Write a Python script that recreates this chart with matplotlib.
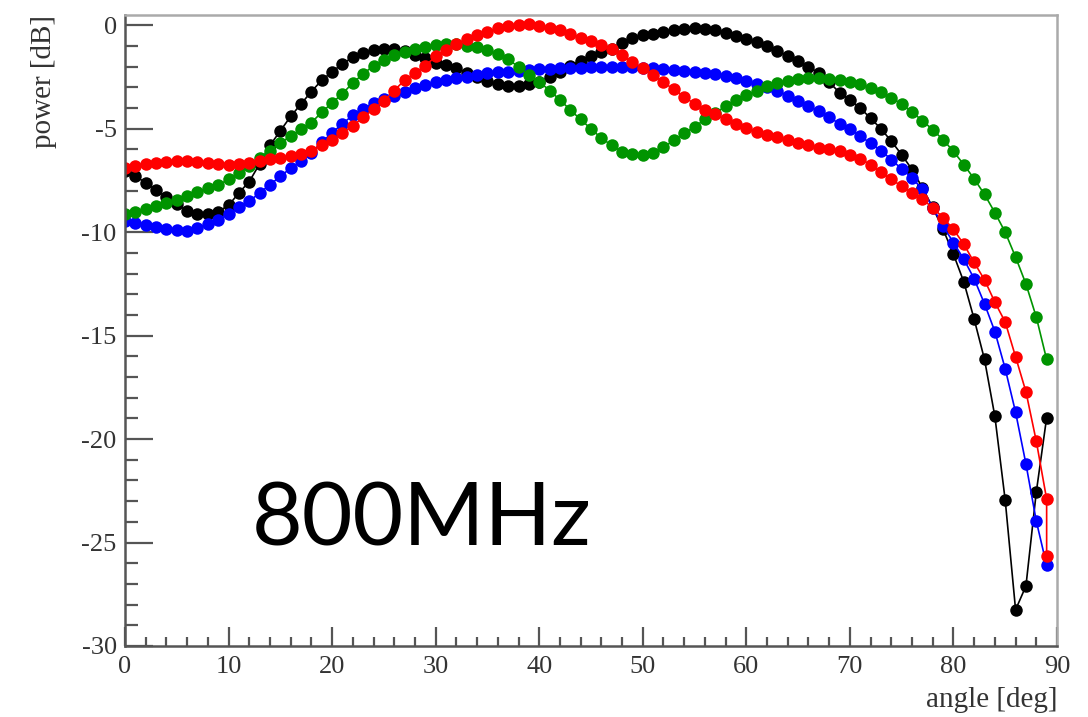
import matplotlib
matplotlib.use('Agg')
import matplotlib.pyplot as plt
from matplotlib.ticker import MultipleLocator
import numpy as np

# angle grid [deg], one point per degree
angle = list(range(0, 90))
# red curve has an extra reading at 89 deg
angle_red = angle + [89]

power_black = [-7.05, -7.3, -7.6, -7.95, -8.3, -8.65, -8.95, -9.1, -9.13, -9.0,
               -8.7, -8.1, -7.55, -6.7, -5.8, -5.1, -4.4, -3.8, -3.2, -2.65,
               -2.25, -1.85, -1.55, -1.35, -1.2, -1.12, -1.12, -1.25, -1.45, -1.6,
               -1.8, -1.92, -2.05, -2.3, -2.5, -2.7, -2.85, -2.92, -2.95, -2.85,
               -2.72, -2.5, -2.24, -1.95, -1.7, -1.48, -1.3, -1.15, -0.85, -0.62,
               -0.48, -0.4, -0.32, -0.22, -0.16, -0.15, -0.16, -0.22, -0.35, -0.5,
               -0.66, -0.82, -1.0, -1.22, -1.48, -1.72, -2.0, -2.3, -2.75, -3.25,
               -3.6, -4.0, -4.49, -5.0, -5.6, -6.25, -6.97, -7.85, -8.8, -9.86,
               -11.06, -12.4, -14.2, -16.15, -18.9, -22.96, -28.25, -27.1, -22.56, -18.96]

power_blue = [-9.46, -9.55, -9.65, -9.75, -9.85, -9.9, -9.92, -9.8, -9.6, -9.4,
              -9.13, -8.8, -8.5, -8.1, -7.7, -7.3, -6.9, -6.55, -6.15, -5.65,
              -5.2, -4.75, -4.35, -4.05, -3.75, -3.55, -3.4, -3.22, -3.05, -2.9,
              -2.75, -2.64, -2.56, -2.48, -2.4, -2.32, -2.27, -2.24, -2.2, -2.15,
              -2.12, -2.1, -2.08, -2.06, -2.05, -2.03, -2.0, -2.0, -2.0, -2.02,
              -2.05, -2.08, -2.12, -2.16, -2.22, -2.27, -2.32, -2.36, -2.45, -2.56,
              -2.7, -2.85, -3.0, -3.15, -3.4, -3.65, -3.9, -4.15, -4.45, -4.75,
              -5.0, -5.35, -5.7, -6.05, -6.49, -6.94, -7.37, -7.93, -8.81, -9.7,
              -10.5, -11.3, -12.25, -13.46, -14.8, -16.6, -18.7, -21.2, -23.96, -26.1]

power_green = [-9.13, -9.0, -8.88, -8.75, -8.6, -8.42, -8.25, -8.05, -7.88, -7.72,
               -7.45, -7.15, -6.8, -6.42, -6.05, -5.69, -5.35, -5.02, -4.7, -4.2,
               -3.75, -3.3, -2.78, -2.35, -1.95, -1.68, -1.45, -1.3, -1.15, -1.04,
               -0.95, -0.88, -0.9, -0.98, -1.06, -1.2, -1.4, -1.65, -2.0, -2.4,
               -2.72, -3.15, -3.6, -4.09, -4.55, -5.0, -5.45, -5.8, -6.1, -6.22,
               -6.25, -6.17, -5.9, -5.55, -5.22, -4.9, -4.55, -4.25, -3.9, -3.6,
               -3.37, -3.15, -2.95, -2.8, -2.67, -2.58, -2.55, -2.55, -2.58, -2.62,
               -2.72, -2.85, -3.02, -3.22, -3.5, -3.8, -4.2, -4.6, -5.05, -5.53,
               -6.09, -6.73, -7.42, -8.17, -9.05, -10.0, -11.2, -12.5, -14.1, -16.15]

power_red = [-6.9, -6.8, -6.72, -6.65, -6.6, -6.55, -6.55, -6.6, -6.65, -6.7,
             -6.75, -6.72, -6.65, -6.55, -6.48, -6.42, -6.33, -6.22, -6.05, -5.8,
             -5.55, -5.2, -4.85, -4.45, -4.05, -3.65, -3.15, -2.65, -2.3, -1.95,
             -1.5, -1.2, -0.9, -0.65, -0.48, -0.3, -0.15, -0.05, 0.02, 0.05,
             -0.05, -0.15, -0.24, -0.4, -0.6, -0.78, -0.95, -1.15, -1.45, -1.78,
             -2.05, -2.4, -2.75, -3.1, -3.45, -3.8, -4.1, -4.3, -4.55, -4.75,
             -4.95, -5.15, -5.3, -5.42, -5.55, -5.67, -5.8, -5.92, -6.0, -6.08,
             -6.25, -6.45, -6.73, -7.1, -7.45, -7.77, -8.09, -8.41, -8.81, -9.3,
             -9.86, -10.58, -11.46, -12.3, -13.38, -14.34, -16.02, -17.71, -20.1, -22.9,
             -25.64]

x_ticks = [0, 10, 20, 30, 40, 50, 60, 70, 80, 90]
y_ticks = [0, -5, -10, -15, -20, -25, -30]

plt.rcParams['axes.unicode_minus'] = False

fig = plt.figure(figsize=(10.88, 7.17), dpi=100)
ax = fig.add_axes([125 / 1088, 1 - 646 / 717, (1057 - 125) / 1088, (646 - 15) / 717])

style = dict(marker='o', markersize=9, linewidth=1.2, markeredgewidth=0)
ax.plot(angle, power_black, color='black', **style)
ax.plot(angle, power_blue, color='#0000ff', **style)
ax.plot(angle, power_green, color='#009400', **style)
ax.plot(angle_red, power_red, color='#ff0000', **style)

ax.set_xlim(0, 90)
ax.set_ylim(-30, 0.5)
ax.set_xticks(x_ticks)
ax.set_yticks(y_ticks)
ax.xaxis.set_minor_locator(MultipleLocator(2))
ax.yaxis.set_minor_locator(MultipleLocator(1))

ax.tick_params(which='both', direction='in', top=False, right=False, color='#555555', width=1.6)
ax.tick_params(axis='y', which='major', length=20, pad=6)
ax.tick_params(axis='y', which='minor', length=9.5)
ax.tick_params(axis='x', which='major', length=14, pad=7)
ax.tick_params(axis='x', which='minor', length=6.5)

for label in ax.get_xticklabels() + ax.get_yticklabels():
    label.set_fontfamily('Liberation Serif')
    label.set_fontsize(19)
    label.set_color('#333333')

for side in ['left', 'bottom']:
    ax.spines[side].set_color('#555555')
    ax.spines[side].set_linewidth(1.8)
for side in ['top', 'right']:
    ax.spines[side].set_color('#aaaaaa')
    ax.spines[side].set_linewidth(1.8)

# ROOT-style axis titles, aligned to the axis ends
fig.text(44 / 1088, 1 - 15 / 717, 'power [dB]', rotation=90, ha='center', va='top',
         family='Liberation Serif', fontsize=21, color='#333333')
fig.text(1057 / 1088, 1 - 700 / 717, 'angle [deg]', ha='right', va='center',
         family='Liberation Serif', fontsize=21, color='#333333')

fig.text(252 / 1088, 1 - 545 / 717, '800MHz', ha='left', va='baseline',
         family='Lato', fontsize=63, color='black')

fig.savefig('out.png', dpi=100)
